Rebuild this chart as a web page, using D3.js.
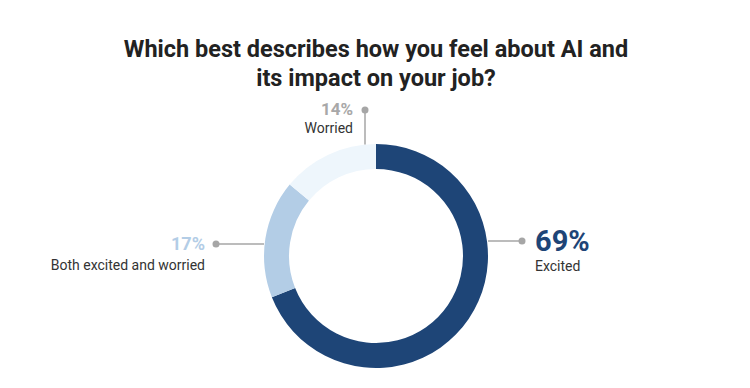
<!DOCTYPE html>
<html>
<head>
<meta charset="utf-8">
<script src="https://cdn.jsdelivr.net/npm/d3@7.9.0/dist/d3.min.js"></script>
<style>
  html, body { margin: 0; padding: 0; background: #fff; }
  svg { display: block; }
</style>
</head>
<body>
<svg id="chart" width="750" height="388"></svg>
<script>
// answers, in clockwise order from 12 o'clock
var categories = ['Excited', 'Both excited and worried', 'Worried']
var values = [69, 17, 14]
var colors = ['#1e4577', '#b3cde6', '#eef6fc']
var titleLines = ['Which best describes how you feel about AI and', 'its impact on your job?']

var W = 750, H = 388
var cx = 376, cy = 256
var rOuter = 112, rInner = 87

var svg = d3.select('#chart')

svg.selectAll('text.title')
    .data(titleLines)
    .enter()
    .append('text')
    .attr('class', 'title')
    .attr('x', cx)
    .attr('y', function (d, i) { return 57 + i * 29 })
    .attr('text-anchor', 'middle')
    .attr('font-family', 'Roboto, sans-serif')
    .attr('font-weight', 700)
    .attr('font-size', '23.5px')
    .attr('fill', '#222')
    .text(function (d) { return d })

var pie = d3.pie().sort(null).value(function (d) { return d })
var arc = d3.arc().innerRadius(rInner).outerRadius(rOuter)
var arcs = pie(values)

var g = svg.append('g').attr('transform', 'translate(' + cx + ',' + cy + ')')

g.selectAll('path')
    .data(arcs)
    .enter()
    .append('path')
    .attr('d', arc)
    .attr('fill', function (d, i) { return colors[i] })

// label placement per slice: leader end point + side
var labels = [
    { dot: [522, 241], from: [rOuter, 241 - cy], anchor: 'start', tx: 535, pctY: 251, pctSize: 29, nameY: 271, pctColor: colors[0] },
    { dot: [216, 244], from: [-rOuter, 244 - cy], anchor: 'end', tx: 205, pctY: 250, pctSize: 18, nameY: 270, pctColor: colors[1] },
    { dot: [365, 110], from: [365 - cx, -Math.sqrt(rOuter * rOuter - (365 - cx) * (365 - cx))], anchor: 'end', tx: 353, pctY: 115, pctSize: 17, nameY: 133, pctColor: '#a8a8a8' }
]

labels.forEach(function (L, i) {
    svg.append('line')
        .attr('x1', cx + L.from[0])
        .attr('y1', cy + L.from[1])
        .attr('x2', L.dot[0])
        .attr('y2', L.dot[1])
        .attr('stroke', '#a6a6a6')
        .attr('stroke-width', 1.5)
    svg.append('circle')
        .attr('cx', L.dot[0])
        .attr('cy', L.dot[1])
        .attr('r', 3.5)
        .attr('fill', '#a6a6a6')
    svg.append('text')
        .attr('x', L.tx)
        .attr('y', L.pctY)
        .attr('text-anchor', L.anchor)
        .attr('font-family', 'Roboto, sans-serif')
        .attr('font-weight', 700)
        .attr('font-size', L.pctSize + 'px')
        .attr('fill', L.pctColor)
        .text(values[i] + '%')
    svg.append('text')
        .attr('x', L.tx)
        .attr('y', L.nameY)
        .attr('text-anchor', L.anchor)
        .attr('font-family', 'Roboto, sans-serif')
        .attr('font-size', '14px')
        .attr('fill', '#333')
        .text(categories[i])
})
</script>
</body>
</html>
